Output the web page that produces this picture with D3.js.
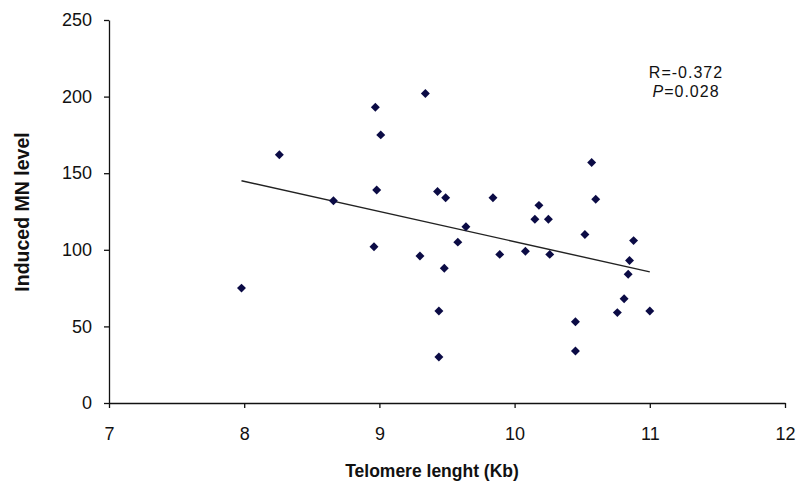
<!DOCTYPE html>
<html>
<head>
<meta charset="utf-8">
<script src="https://cdn.jsdelivr.net/npm/d3@7"></script>
<style>
  body { margin: 0; background: #fff; }
  svg text { font-family: "Liberation Sans", Arial, sans-serif; fill: #111; }
</style>
</head>
<body>
<div id="chart"></div>
<script>
  // shared config
  var width  = 797,
      height = 490;

  // telomere length (Kb) vs induced MN level
  var telomere = [7.98, 8.26, 8.66, 8.97, 9.01, 8.98, 8.96, 9.34, 9.30, 9.43,
                  9.49, 9.44, 9.44, 9.48, 9.58, 9.64, 9.84, 9.89, 10.08, 10.15,
                  10.18, 10.25, 10.26, 10.45, 10.45, 10.52, 10.57, 10.60, 10.76, 10.81,
                  10.84, 10.85, 10.88, 11.00];
  var mnLevel  = [75, 162, 132, 193, 175, 139, 102, 202, 96, 138,
                  134, 60, 30, 88, 105, 115, 134, 97, 99, 120,
                  129, 120, 97, 53, 34, 110, 157, 133, 59, 68,
                  84, 93, 106, 60];

  // linear trend line (slope, intercept) as drawn
  var trend = [-19.7, 302.3];

  var xTicks = [7, 8, 9, 10, 11, 12],
      yTicks = [0, 50, 100, 150, 200, 250];

  var stats = ["R=-0.372", "=0.028"];

  var points = telomere.map(function(t, i){ return {x: t, y: mnLevel[i]} });

  var svg = d3.select("#chart").append("svg")
    .attr("width", width)
    .attr("height", height);

  var x = d3.scaleLinear().domain([7, 12]).range([109, 785]),
      y = d3.scaleLinear().domain([0, 250]).range([403, 20]);

  // axes
  var xAxis = svg.append("g")
    .attr("transform", "translate(0," + y(0) + ")")
    .call(d3.axisBottom(x).tickValues(xTicks).tickFormat(d3.format("d"))
      .tickSize(5).tickPadding(19).tickSizeOuter(0));

  var yAxis = svg.append("g")
    .attr("transform", "translate(" + x(7) + ",0)")
    .call(d3.axisLeft(y).tickValues(yTicks).tickFormat(d3.format("d"))
      .tickSize(5).tickPadding(12).tickSizeOuter(0));

  [xAxis, yAxis].forEach(function(a){
    a.select(".domain").attr("stroke", "#111").attr("stroke-width", 1.3);
    a.selectAll(".tick line").attr("stroke", "#111").attr("stroke-width", 1.3);
    a.selectAll(".tick text")
      .attr("font-size", 18)
      .attr("fill", "#222")
      .style("font-family", "'Liberation Sans', Arial, sans-serif");
  });

  // trend line over the range of the data
  var ext = d3.extent(telomere);
  svg.append("line")
    .attr("x1", x(ext[0]))
    .attr("y1", y(trend[0] * ext[0] + trend[1]))
    .attr("x2", x(ext[1]))
    .attr("y2", y(trend[0] * ext[1] + trend[1]))
    .attr("stroke", "#222")
    .attr("stroke-width", 1.4);

  // diamonds
  svg.selectAll(".point")
    .data(points)
    .enter()
    .append("path")
    .attr("class", "point")
    .attr("d", d3.symbol(d3.symbolSquare, 40))
    .attr("transform", function(d){
      return "translate(" + x(d.x) + "," + y(d.y) + ") rotate(45)";
    })
    .attr("fill", "#0b0b45");

  // axis titles
  svg.append("text")
    .attr("x", 432)
    .attr("y", 477)
    .attr("text-anchor", "middle")
    .attr("font-size", 17.5)
    .attr("font-weight", "bold")
    .text("Telomere lenght (Kb)");

  svg.append("text")
    .attr("transform", "translate(29,212) rotate(-90)")
    .attr("text-anchor", "middle")
    .attr("font-size", 19.5)
    .attr("font-weight", "bold")
    .text("Induced MN level");

  // correlation note
  svg.append("text")
    .attr("x", 686)
    .attr("y", 78)
    .attr("text-anchor", "middle")
    .attr("font-size", 16)
    .attr("letter-spacing", 1)
    .text(stats[0]);

  var pLine = svg.append("text")
    .attr("x", 686)
    .attr("y", 97)
    .attr("text-anchor", "middle")
    .attr("font-size", 16)
    .attr("letter-spacing", 1);
  pLine.append("tspan").attr("font-style", "italic").text("P");
  pLine.append("tspan").text(stats[1]);
</script>
</body>
</html>
